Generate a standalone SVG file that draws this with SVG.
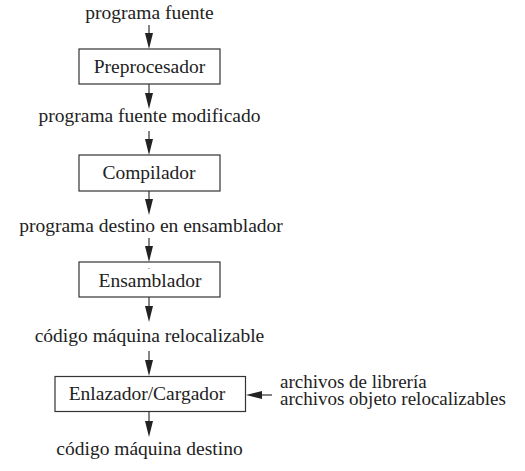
<svg xmlns="http://www.w3.org/2000/svg" width="525" height="471" viewBox="0 0 525 471">
<defs>
<path id="ah" d="M-4,-16 L4,-16 L0,0 Z" fill="#222"/>
</defs>
<rect width="525" height="471" fill="#fff"/>
<g id="connectors" stroke="#333" stroke-width="1.2" fill="none">
<line x1="149" y1="25" x2="149" y2="35"/><use href="#ah" x="149" y="49" stroke="none"/>
<line x1="149" y1="84" x2="149" y2="95"/><use href="#ah" x="149" y="109" stroke="none"/>
<line x1="149" y1="131" x2="149" y2="141"/><use href="#ah" x="149" y="155" stroke="none"/>
<line x1="149" y1="191" x2="149" y2="201"/><use href="#ah" x="149" y="215" stroke="none"/>
<line x1="149" y1="238" x2="149" y2="248"/><use href="#ah" x="149" y="262" stroke="none"/>
<line x1="149" y1="297" x2="149" y2="308"/><use href="#ah" x="149" y="322" stroke="none"/>
<line x1="149" y1="351" x2="149" y2="361"/><use href="#ah" x="149" y="376" stroke="none"/>
<line x1="149" y1="411" x2="149" y2="422"/><use href="#ah" x="149" y="437" stroke="none"/>
<line x1="272" y1="395" x2="260" y2="395"/><path d="M262,391 L262,399 L246,395 Z" fill="#222" stroke="none"/>
</g>
<g id="n_pf"><text font-family="Liberation Serif" font-size="19.5" fill="#222" text-anchor="middle" x="149.5" y="19">programa fuente</text></g>
<g id="n_pre"><rect x="79" y="49" width="141" height="35" fill="#fff" stroke="#333" stroke-width="1.2"/><text font-family="Liberation Serif" font-size="19.5" fill="#222" text-anchor="middle" x="149.5" y="72.5">Preprocesador</text></g>
<g id="n_pfm"><text font-family="Liberation Serif" font-size="19.5" fill="#222" text-anchor="middle" x="149.5" y="121.5">programa fuente modificado</text></g>
<g id="n_comp"><rect x="79" y="155" width="141" height="36" fill="#fff" stroke="#333" stroke-width="1.2"/><text font-family="Liberation Serif" font-size="19.5" fill="#222" text-anchor="middle" x="149" y="179.3">Compilador</text></g>
<g id="n_pde"><text font-family="Liberation Serif" font-size="19.5" fill="#222" text-anchor="middle" x="151" y="231.7">programa destino en ensamblador</text></g>
<g id="n_ens"><rect x="79" y="262" width="141" height="35" fill="#fff" stroke="#333" stroke-width="1.2"/><text font-family="Liberation Serif" font-size="19.5" fill="#222" text-anchor="middle" x="150" y="287">Ensamblador</text><rect x="148.5" y="268" width="1" height="1" fill="#666"/></g>
<g id="n_cmr"><text font-family="Liberation Serif" font-size="19.5" fill="#222" text-anchor="middle" x="149.5" y="342">código máquina relocalizable</text></g>
<g id="n_enl"><rect x="55" y="376.5" width="190.5" height="35" fill="#fff" stroke="#333" stroke-width="1.2"/><text font-family="Liberation Serif" font-size="19.5" fill="#222" text-anchor="middle" x="147" y="399.5">Enlazador/Cargador</text></g>
<g id="n_lib"><text font-family="Liberation Serif" font-size="19" fill="#222" x="280" y="388">archivos de librería</text><text font-family="Liberation Serif" font-size="19" fill="#222" x="280" y="405">archivos objeto relocalizables</text></g>
<g id="n_cmd"><text font-family="Liberation Serif" font-size="19.5" fill="#222" text-anchor="middle" x="149.5" y="455">código máquina destino</text></g>
</svg>
